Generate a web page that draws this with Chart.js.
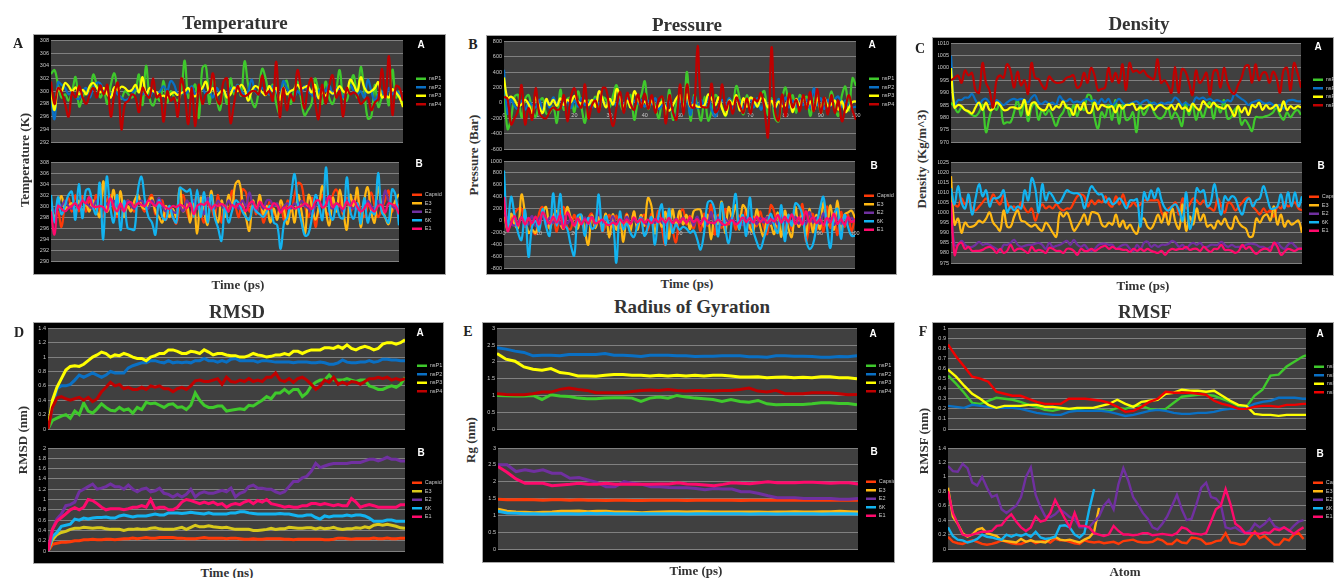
<!DOCTYPE html>
<html>
<head>
<meta charset="utf-8">
<title>MD plots</title>
<script src="https://cdn.jsdelivr.net/npm/chart.js"></script>
<style>
  html, body { margin: 0; padding: 0; background: #fff; width: 1334px; height: 578px; overflow: hidden; }
  .box { position: absolute; background: #000; border: 1px solid #a8a8a8; box-sizing: border-box; }
  canvas { position: absolute; filter: blur(0.5px); }
  .t { position: absolute; font-family: "Liberation Serif", serif; font-weight: bold; color: #333; white-space: nowrap; transform: translate(-50%, -50%); }
  .title { font-size: 19px; }
  .lab { font-size: 13px; }
  .v { transform: translate(-50%, -50%) rotate(-90deg); }
  .ltr { font-size: 14px; color: #222; }
  .sub { position: absolute; font-family: "Liberation Sans", sans-serif; font-weight: bold; font-size: 10px; color: #fff; transform: translate(-50%, -50%); }
</style>
</head>
<body>
<script>
// x axes
const time100 = [0,1,2,3,4,5,6,7,8,9,10,11,12,13,14,15,16,17,18,19,20,21,22,23,24,25,26,27,28,29,30,31,32,33,34,35,36,37,38,39,40,41,42,43,44,45,46,47,48,49,50,51,52,53,54,55,56,57,58,59,60,61,62,63,64,65,66,67,68,69,70,71,72,73,74,75,76,77,78,79,80,81,82,83,84,85,86,87,88,89,90,91,92,93,94,95,96,97,98,99,100];
const rmsdTime = [0,.25,.5,.75,1,1.25,1.5,1.75,2,2.25,2.5,2.75,3,3.25,3.5,3.75,4,4.25,4.5,4.75,5,5.25,5.5,5.75,6,6.25,6.5,6.75,7,7.25,7.5,7.75,8,8.25,8.5,8.75,9,9.25,9.5,9.75,10,10.25,10.5,10.75,11,11.25,11.5,11.75,12,12.25,12.5,12.75,13,13.25,13.5,13.75,14,14.25,14.5,14.75,15,15.25,15.5,15.75,16,16.25,16.5,16.75,17,17.25,17.5,17.75,18,18.25,18.5,18.75,19,19.25,19.5,19.75,20];
const rgTime = [0,500,1000,1500,2000,2500,3000,3500,4000,4500,5000,5500,6000,6500,7000,7500,8000,8500,9000,9500,10000,10500,11000,11500,12000,12500,13000,13500,14000,14500,15000,15500,16000,16500,17000,17500,18000,18500,19000,19500,20000];
const rmsfAtomA = [0,5,10,15,20,25,30,35,40,45,50,55,60,65,70,75,80,85,90,95,100,105,110,115,120,125,130,135,140,145,150,155,160,165,170,175,180,185,190,195,200,205,210,215,220,222];
const rmsfAtomB = [0,20,40,60,80,100,120,140,160,180,200,220,240,260,280,300,320,340,360,380,400,420,440,460,480,500,520,540,560,580,600,620,640,660,680,700,720,740,760,780,800,820,840,860,880,900,920,940,960,980,1000,1020,1040,1060,1080,1100,1120,1140,1160,1180,1200,1220,1240,1260,1280,1300,1320,1340,1360,1380,1400,1420,1440,1460];

// temperature (K)
const tempNsP1 = [302.7,303.3,301,299,299.5,298.5,300,302.2,297.6,299,300,299.5,302.6,301,299,300,298,301,302.8,300,
298.8,300,299.5,299,300,302.6,297.8,304,299,297.7,299,298.5,301.6,298.2,300,299,298.5,300,304.8,299,
300,301,295.8,303.6,304,298,302.2,299,297,300,298,302,299.5,301,299.3,304.7,301,298.5,297.5,300,
303.5,302,299.5,301,298,296.5,301,301.6,298,300,301.5,299,296.2,297,298,302,300,298,301.5,299,
298,300,303.3,299,298.5,301,302.5,299,303.8,300,295.7,296,301,297.5,299,300,297.8,303.4,299,300,298];
const tempNsP2 = [299,295.6,301.4,301,300.5,299.5,299.8,299,298.8,300,300.5,299,300.5,301.3,301.2,300,299.8,299.5,300,299.5,
299,298.6,298.8,299.5,300.3,300,299.5,299.8,299,300,299.5,300,300.8,300,301.6,301,299.5,299.8,299.5,300,
300.8,299.5,300,300.5,299.5,300,299,300.5,299.8,300,299.3,300.5,300,301,300,299.5,300,301.8,300,299.5,
300.5,300,299.5,300.8,300,299,301.6,300.5,299.5,299,300,299.5,300.8,300,299.5,299,300,300.5,300,301,
299.5,300.5,300,299,300.3,301,300,299.5,300,299,301.8,300,298.5,299.5,300,299,300.5,299.5,300,299.5,298.5];
const tempNsP3 = [300,297,300.5,300,301.3,300.8,300,300.6,299.5,300.2,299.5,300.8,301.3,300.6,299.8,300.5,299.5,299,300.6,300.2,
300.7,300.5,300,300.2,301,299.8,302.2,299.5,300.5,300,299.8,299.2,299.3,299,299.5,299.8,299.4,299.7,300,300.5,
299.5,299.2,300,300.5,301.5,299.8,300.5,299.3,299.8,300.2,299,299.5,300.6,300,301,300.3,298.5,300,300.8,300.5,
299.8,299.4,300.8,300,300.5,298.6,300.5,299.5,300,300.3,301,300.4,300.6,300.8,299.8,301,298.9,299.8,299.3,300,
299.6,300,300.8,300,299.8,301.8,301,300,302.2,300.6,299.8,300,300.5,301.4,299,299.3,299,300.3,299.8,299,297.5];
const tempNsP4 = [301.5,298,300.5,299.8,298,296,299.8,299,300.8,299,298,299.5,300.5,299,300.9,299.5,301,296,299.5,301.3,
294,298,298.5,299.5,299,296.7,300.5,299.5,299,302,299,299.5,295.2,300,298.5,299,296,302,299.5,294.8,
300.5,294.5,301,298,299.5,300,302.8,299,298,301.5,302,295,298,300.8,299.5,299.2,299.5,300,300,299.5,
302.5,299.5,300,298.5,304.6,295.9,300.5,297,299.5,298.5,303.3,300.5,297.2,300.5,302,298.5,295.6,301,298,300.8,
302.5,299,300,296,300.5,299.5,299.8,299.3,298,298.5,299,297,298.2,298.8,303.5,299,305.5,296.3,300.8,300.5,298.5];
const tempCapsid = [301,298,299,296.2,300,301.5,299,302,299,301.8,299,301,300,302,299,298,301,302,299.5,298,
300,298.5,301,300,299,302,300,299,301,302,298.5,300,301,297.5,299,298,296.8,300,302,299,
297.5,300,301.8,299,297,301,300,298,302,297,300,299,302.8,300,298,303,302.5,299,300.5,298.5,
301.5,297,299,301,299,298,300,297.5,301,299,302,304.2,303.8,300,298,301.5,296.2,300,302,299,
298.5,302,303,301,298.5,301.5,299,300.5,302,299,298,300,302.5,300,298,299.5,301,302.8,299,300.5,300];
const tempE3 = [300,298,300,301.8,299.5,300,300.5,298.8,301,299,300.5,299,301,299.5,298,304.5,299,300,302.9,298.5,
302.7,298,300,299,301,302,300,299.5,300.5,301.5,299,298,297,300,298,299.5,298,303.3,299,300.5,
297,301,295,301.5,299,296.6,302.7,299,297,301,298,302,300,304,304.5,301,298,295.5,301,299,
302,298.5,300,297,299.5,297.5,301,299,296.7,300,297,302,299,295,302,300,297.5,300,303.6,299,
296.5,301.5,299,303,299,295.7,302,300,303.3,296.2,301,303.4,299,297,303.4,300,298,296.7,299.5,301,302.2];
const tempE2 = [300,299,300.5,300,301,300,299.5,300.5,300,301,300.5,300,299.5,301,300,299.5,300.5,300,301,300,
299.5,300,301,300,299.5,300.5,301,300,299.5,301,300,301.5,300,299,300,299,298.8,300,299,301,
300,301,299.5,300,298.5,301.5,300,299.5,301,300,299.5,301,300,300.5,299.5,301,300,302.5,300,299,
300.5,299.5,301,301,300,300.5,299,300,300.5,299.5,300.5,300,301,300,299.5,298.5,300,300.5,300,301.5,
300,299.5,300.5,300,299,301,300,299.5,300.5,299,300,301,300,299.5,301,299.5,302.8,301,300,299.5,300];
const temp6K = [302,297,301.6,298.5,300,302,302.6,297.5,304,297.8,302.8,303,300,298.5,304.2,293.9,305.3,300,297,302,
295.6,301,296,295.8,295.7,303,305.3,301,298,297,294.8,301,298,297.5,300,298,297,303.3,303,302.6,
303,298,303,298,302.5,297,302,298,296,293.7,300,297,299,301,300.5,299,298,297.5,300,299,
298.5,298,299,300,297,296.5,292.2,297,298,302,305.8,300,297,294.6,295,298,302,300,297.5,307,
299,297.5,300,298,297.8,305.2,299,297.7,300.5,296.8,301.5,297,299,298.5,306,299,298,297,303,302,296.5];
const tempE1 = [299,294.8,300,299.5,299,299.6,300,300.5,299.5,301,300.5,301.6,300,299.8,300,299.8,299,301.4,300,299,
300.5,299,300.5,300.7,299.8,300.5,300.2,300,301,300.5,300,300.7,300.2,299.7,299.5,300,299.8,300.2,300,299.6,
300.5,298.5,300,300.4,300.2,300.8,299.5,300.2,300,300.4,300,299,300.2,299.7,300.4,300,299,300.4,300.8,299.5,
300.8,300,299.5,299.5,300.5,300,298.8,299.7,299.5,300,299.5,299.8,300,300.5,300,299.5,300.8,301,299.7,300.2,
301.8,299.8,300.5,300,299.5,300.8,300,301,299.8,299,299.5,300.5,299.5,299,300,300.2,298.8,300.5,300.3,300,298.5];

// pressure (bar)
const presNsP1 = [250,-340,-200,80,100,-190,50,100,-100,-180,0,60,-140,-130,-50,-260,170,-90,50,60,
-120,150,-60,-260,30,0,80,-100,70,40,-60,100,230,0,-100,30,100,-220,0,100,
280,-80,50,-50,-200,60,-150,170,-220,0,80,-50,400,-230,100,-50,-230,80,-230,-100,
100,50,-60,-170,50,0,220,50,-150,100,-100,50,-50,100,150,-160,60,-200,-240,50,
200,-50,100,-130,100,30,80,-170,50,120,-130,0,-50,150,-50,-170,100,210,-100,320,220];
const presNsP2 = [430,-140,50,-40,-80,30,-90,10,-30,-60,40,-110,20,-60,70,-20,50,-40,20,-70,
30,-50,60,-30,10,-60,50,-20,40,-50,0,20,-40,70,-30,50,-60,30,-10,40,
-50,30,-20,60,-80,-30,-50,40,-130,-180,60,-90,50,-160,80,-70,40,-50,70,-90,
-180,-60,40,-30,60,-100,50,20,-70,30,50,-60,60,-90,30,-50,40,-80,50,-40,
70,-60,30,-50,60,-30,40,-70,190,-30,60,-80,40,-40,50,80,-50,30,-40,-60,-50];
const presNsP3 = [330,60,80,40,-40,-20,40,-20,-130,70,-50,-130,50,-30,40,-40,60,-30,40,10,
90,20,-10,30,-30,40,-50,150,50,-60,50,-20,180,80,-50,30,-60,150,60,-30,
20,-50,30,-70,-40,20,-70,-100,-30,60,100,-70,110,-50,-20,-50,-50,-30,110,50,
-30,70,-80,-160,30,-20,100,-100,60,-50,70,30,-50,60,40,-60,30,-60,20,-40,
-30,50,-120,50,-30,80,-50,20,-100,60,-80,60,-40,-20,30,-90,20,-120,-60,10,20];
const presNsP4 = [80,50,-280,-200,-100,230,-280,-70,-220,190,-130,-190,-200,-110,-60,-90,-70,100,-240,80,
190,0,-60,240,-200,-30,30,-120,190,180,-100,-300,-50,140,-130,130,-20,-90,110,-60,
120,-80,100,-130,50,80,-270,100,-120,-220,240,-150,240,-40,-60,740,-40,-60,-50,250,
-120,-60,240,-90,20,-140,70,-40,-130,60,-140,50,20,130,-100,-440,720,-100,-230,110,
-180,120,-60,40,-110,100,-80,140,-110,180,-130,70,-150,100,-130,30,-240,-60,100,-100,-220];
const presCapsid = [240,-150,0,120,200,200,-100,40,-140,-220,130,230,-50,-120,80,-180,120,230,-100,-140,
100,-80,60,-160,40,120,-100,60,-180,-60,100,-100,90,-120,-60,120,-110,150,-120,40,
100,-160,120,-60,170,-130,-400,190,-130,-360,100,190,-60,80,-140,60,-170,120,-80,270,
-230,100,-120,200,-60,120,-150,90,-70,180,-140,70,-90,160,-100,-220,260,150,-120,120,
-170,100,-150,80,-100,280,-340,-100,120,-150,60,-180,240,-120,120,-240,150,-100,100,-170,80];
const presE3 = [200,-150,120,-60,-120,440,120,-200,-150,-200,-50,130,230,-130,60,170,-50,-130,230,60,
-60,-130,100,-150,-400,90,-120,60,-100,120,-280,110,-150,60,-350,100,-180,160,-150,100,
-80,380,250,-210,60,-100,150,-300,190,-80,170,-60,100,-140,160,190,180,-100,100,-310,
100,-50,320,-200,230,60,260,-150,260,180,-100,-180,190,-100,-260,80,-60,-220,140,-270,
170,-120,-270,230,-100,100,-250,200,-190,100,-140,310,-100,260,-150,340,-160,100,140,170,50];
const presE2 = [100,50,-50,-80,-30,60,-80,-50,80,-90,40,90,-70,60,-40,100,-60,80,-50,30,
-70,40,-40,60,-50,70,-60,180,-30,50,-50,80,-60,40,-30,70,-50,30,-40,60,
-30,-60,50,-40,60,-30,-70,50,-50,40,-40,60,-30,50,-80,70,-40,50,-60,150,
-50,60,-70,40,-30,60,-50,40,-70,60,-40,30,-60,50,-30,70,-50,40,-60,50,
-40,60,-40,70,-50,50,-60,150,-30,60,-50,130,-40,50,-70,40,-50,60,-30,50,-20];
const pres6K = [840,-150,400,100,-200,-320,180,-600,-100,0,-170,200,-100,-250,460,-80,450,-50,-130,-400,
-580,80,100,-250,50,-130,-80,440,-170,80,-60,-30,-700,150,-140,-50,-200,-270,-80,50,
-250,-100,60,-400,80,270,-400,200,-200,-60,-150,-100,-130,-200,-160,-300,-480,-200,300,330,
180,-260,300,-100,-370,50,450,-130,100,-250,390,-150,-350,-470,-300,-100,120,-80,-200,260,
-340,100,-80,290,250,100,-300,-470,-400,-100,200,400,-100,-450,100,200,-300,100,-100,-250,-250];
const presE1 = [400,-170,-50,80,-80,60,-60,50,-40,70,-60,140,40,-50,70,-30,90,-130,140,30,
-80,40,-60,30,-50,60,-40,-20,20,-50,-70,-30,-60,30,-40,20,-50,60,-20,30,
-30,20,-40,30,-20,40,-30,50,-40,20,-30,40,-30,60,-20,30,-50,50,-20,-30,
-40,20,-40,-70,-30,10,-60,-20,60,-20,50,-30,70,-20,40,-40,30,-10,100,-30,
70,-20,110,-50,60,-60,160,-20,60,-40,30,-70,50,-20,120,-50,30,-70,60,-20,10];

// density (kg/m^3)
const densNsP1 = [986,984,982,984,983,982,981,980.5,982,985,974,980,984,983,986,977.5,978,978,982,987,
980.5,987,978.5,984,986,979,983,981,983,980,976.5,980,982,985,980.5,985,980.5,984,983,989,
988.5,980,975.5,982,980,985,979,987,977.5,985,979,979.5,982,974,985,981,983,986,982,980,
979.5,981,984,979.5,982,980,976.5,986,981,985,979,983,980,984,986,979.5,985,982,987,979.5,
980,983,984,977,979,977,974.5,980,980,980,980.5,981,982,984,981,979,982,980,982,983,981];
const densNsP2 = [1005,985,987,987,988,988,989.5,987,985,987,987.5,986,985,987,986,985,986,987,987.5,987,
987.5,987,986,988,989,986,985.5,986.5,985.5,986,985,988.5,987,986.5,987.5,986,986.5,986,987,987.5,
986.5,987,985.5,987.5,986,987.5,985,986,987.5,986,985,985.5,986,986.5,985.5,986.5,987,985.5,986,985,
986,985.5,986,986,988,987,985,986,985,985.5,988,987.5,988,987,987.5,986.5,987,986.5,986,987,
986.5,989.5,988.5,987.5,986.5,985,986,986.5,987,986,985.5,986,985,984,985,983.5,986.5,987,987,986.5,986.5];
const densNsP3 = [1000,984,985,984.5,983,982.5,981.5,984,986,983,986,983,983.5,986,985,983,983,984,984,983.5,
984,987,981,985.5,986,984,983,983,985.5,983,984.5,984,986.5,984,983.5,981,985,983,986,982,
982,986,983,985,984.5,984,984.5,982,985,983.5,985,985,985.5,983,984,983.5,984.5,985,983,984.5,
985,984,983.5,985,983,985.5,983.5,984,982.5,985.5,984,983,986.5,985,984,986,984.5,984,983.5,985,
983,980.5,984.5,982,984,981,985,984,986,983,985,983.5,984,985,982.5,986.5,983,984.5,983.5,984.5,984];
const densNsP4 = [995,996,997,994,999,997,998,991,990,1002,994,991,984,995,997,996,1001.5,999,992,998.5,
993,995,989.5,1002,996,995.5,993,991.5,996.5,995,994,994,994.5,996,996.5,997,992,993,998,994,
1000,997,991,991.5,992,1000,994.5,998,994,1001.5,991,1002,998.5,999,998,999,997,996,995.5,1003.5,
994,995,993,990,1000.5,990,999.5,998.5,994,989,999,994,995.5,998,989,998.5,999,992,1000,994,
990.5,989.5,993,996,1000.5,1001,994,1001.5,995,998,998,994,998.5,996,990,999,1000,991,1002,998,992];
const densCapsid = [1006,1004,1003,1007,1004,1006,1002,1001,1003,1005,1007,1005,1009,1006,1004,1008.5,1005,1002,1003,1001,
1005,1002,1000,1002,996,1001,1004,1002,1003,1002,1004,1002,1001,1002,1002,1005,1008,1009,1008,1003,
1006,1004,1006,1005,1008,1004,1003,1008,1004,1009,1004,1003,1005,1003,1004,1006,1006,1006,1006,1006,
1000,998,1002,1003,1005,999,1007,1002,1004,1007,1006,1004,1006,1003,1002,1001,1007,1003,1000,1005,
1004,1001,1003,1005,1007,1007,1003,1001,999,1002,1000,1001,998,1003,1002,1005,1003,1004,1005,1002,1001];
const densE3 = [1018,994,997,990,995,993,993,994,996,995,997,1000,995,993,991,1001,993,993,998,1001,
996,995.5,994,993,994,992,991,995,993,990,988,1000,998,1000,996,991,993,996,999,994,
1000,1000,999,994,993,995,994,999,993,996,992,994,991,989.5,996,997,993,992,995,999,
995,1000,994,1002,995,992,1004,991,998,994,1002,996,999,993,994,992,996,994,997,993,
992,998,995,993,992,988,988.5,997,995,998,999,996,1003,994,999,993,996,994,995,996,990];
const densE2 = [1000,984,984,986,984,983,983,984,985.5,984,984.5,984,983,982,981,984,984,985,986.5,984,
983,983.5,984,984,984.5,985,984,982,985,983,983.5,984,985,986,984,986.5,984,983,984,982,
981,982,984,984.5,984.5,984,984,982,983,984,984,982,981,984,982,985,985.5,983,984,983,
984,984,984.5,986,985,983,984,982,984,985,984,985,983,983,984,984,984,985.5,984,983,
984,983,983,983,984,984.5,984.5,984,983,983,982,983,984,985,983,982,984,985,983.5,982,982.5];
const dens6K = [1012,1004,1013,1005,1002,1009,999,1007,1014,1008,1011,1003,1007,1007,1008,1011,1000,1003,1001,1003,
1002,1011,1006,1017,1012,1000,1014,1006,1010,1008,1005,1005,1008,1011,1010,1009.5,1009.5,1008,1002,1008,
1013,1011,1009,1009,1005,1007,1004,1005,1007,1005,1002,1006,1006,1006.5,993,1010,1006,1011,1007,1012,
1006,1002,1001,1003,1004,1001,996,1010,992,998,1012,1010,1011,1003,1005,1014,1006,999,1008,1006,
1008,1007,1002,999,1005,1007,1003,1006,1007,1013,1008,1002,1002,1003,1009,1002,1010,1003,1010,1003,1008];
const densE1 = [1005,979,984,985,982,983,981,981,981,981.5,982.5,983,982,980,982,980,981,984,981,982,
982,981,980,983,981,981.5,981,980,982.5,982,981,981,980,982,982,981,979,982,981,981,
982,981,982,983,983.5,982,983,982,982,981.5,981.5,980.5,982,981,982,981,982,981,980.5,980,
981,979,981,982,981.5,982,982,983,981.5,982,982,981,983,981.5,980.5,982,982,984,981.5,981.5,
981,980,981,984,982,983,981,979.5,981,982,982,981,985,983,979,980.5,982,981.5,981,982,982];

// rmsd (nm)
const rmsdNsP1 = [0,.12,.15,.18,.2,.15,.25,.2,.36,.25,.22,.28,.35,.3,.26,.25,.3,.26,.28,.22,
.3,.27,.37,.35,.36,.33,.3,.34,.35,.3,.31,.27,.33,.5,.4,.33,.3,.3,.32,.32,
.25,.26,.27,.28,.27,.33,.32,.36,.4,.45,.42,.5,.5,.55,.5,.55,.55,.45,.5,.6,
.65,.68,.68,.75,.68,.68,.68,.7,.68,.66,.68,.68,.6,.58,.55,.55,.58,.6,.58,.62,.72];
const rmsdNsP2 = [0,.3,.56,.6,.6,.62,.68,.75,.72,.75,.78,.75,.72,.75,.8,.78,.78,.78,.85,.88,
.9,.92,.92,.95,.95,.93,.92,.95,.92,.93,.92,.93,.92,.95,.95,.98,.95,.95,.93,.95,
.93,.97,.98,.95,.95,.95,.95,.93,.95,.95,.94,.93,.93,.93,.93,.92,.93,.93,.93,.92,
.92,.93,.92,.9,.9,.92,.96,.93,.92,.92,.93,.93,.95,.93,.94,.97,.97,.96,.96,.95,.95];
const rmsdNsP3 = [0,.4,.58,.7,.82,.87,.88,.87,.9,.95,1,1.03,1.07,1.05,1,1.03,1.02,1.05,1.03,1,
.98,.98,.95,1,1.02,1.05,1.05,1.1,1.1,1.08,1.05,1.05,1.08,1.07,1.05,1.1,1.07,1.03,1.05,1.05,
1.03,1.02,1.02,1,1,1.02,1.05,1.03,1.02,1,1.01,1.03,1.03,1.05,1.03,1.08,1.08,1.05,1.08,1.1,
1.1,1.1,1.13,1.13,1.12,1.15,1.12,1.17,1.12,1.1,1.13,1.15,1.13,1.1,1.12,1.18,1.2,1.2,1.18,1.2,1.24];
const rmsdNsP4 = [0,.3,.43,.45,.42,.4,.42,.44,.4,.44,.38,.42,.52,.58,.65,.6,.62,.56,.58,.55,
.55,.58,.55,.6,.58,.6,.56,.56,.52,.56,.58,.55,.6,.67,.68,.66,.66,.68,.7,.62,
.72,.66,.65,.68,.66,.7,.66,.68,.66,.72,.72,.78,.68,.66,.7,.65,.7,.72,.68,.62,
.55,.6,.68,.65,.72,.62,.65,.62,.66,.65,.62,.66,.7,.7,.72,.7,.72,.68,.7,.68,.7];
const rmsdCapsid = [0,.13,.15,.17,.17,.18,.2,.2,.22,.22,.23,.22,.22,.23,.23,.22,.23,.24,.24,.25,
.24,.25,.26,.25,.25,.26,.26,.26,.26,.25,.25,.24,.24,.24,.25,.26,.25,.25,.25,.25,
.24,.25,.25,.24,.23,.23,.24,.23,.23,.24,.24,.24,.24,.23,.23,.22,.23,.23,.23,.23,
.23,.23,.22,.22,.23,.25,.25,.24,.23,.24,.24,.24,.24,.25,.24,.24,.25,.24,.24,.25,.25];
const rmsdE3 = [0,.22,.32,.36,.38,.42,.44,.44,.46,.45,.44,.45,.45,.43,.42,.42,.42,.4,.42,.42,
.43,.42,.42,.44,.45,.43,.42,.42,.42,.44,.46,.42,.46,.5,.47,.47,.49,.47,.46,.45,
.46,.44,.42,.42,.42,.42,.4,.4,.41,.42,.44,.42,.43,.43,.46,.45,.44,.44,.45,.45,
.43,.45,.43,.44,.46,.43,.42,.43,.43,.45,.44,.47,.45,.5,.52,.5,.52,.5,.48,.45,.44];
const rmsdE2 = [0,.42,.62,.72,.88,.9,.95,1.15,1.2,1.25,1.3,1.2,1.22,1.25,1.3,1.25,1.25,1.2,1.28,1.2,
1.15,1.2,1.22,1.15,1.17,1.22,1.12,1.1,1.05,1.1,1.05,1.1,1.2,1.05,1.12,1.15,1.12,1.12,1.15,1.18,
1.15,1.22,1.05,1.12,1.15,1.25,1.28,1.22,1.22,1.2,1.2,1.15,1.12,1.15,1.25,1.35,1.35,1.42,1.45,1.55,
1.7,1.62,1.65,1.68,1.7,1.7,1.7,1.7,1.72,1.72,1.72,1.75,1.78,1.78,1.75,1.78,1.82,1.78,1.78,1.75,1.75];
const rmsd6K = [0,.28,.36,.48,.5,.52,.62,.6,.64,.62,.64,.65,.65,.66,.64,.64,.68,.7,.68,.66,
.68,.68,.68,.7,.72,.7,.7,.74,.74,.74,.73,.74,.75,.74,.73,.72,.74,.72,.72,.72,
.72,.74,.74,.76,.76,.74,.73,.72,.72,.72,.72,.72,.73,.72,.72,.7,.68,.68,.7,.7,
.65,.62,.68,.66,.68,.68,.68,.7,.68,.7,.7,.68,.64,.58,.58,.58,.6,.6,.58,.58,.58];
const rmsdE1 = [0,.42,.58,.65,.72,.8,.84,.8,.85,1,.98,.92,.85,.8,.82,.82,.82,.8,.82,.85,
.85,.88,.85,1,.82,.85,.85,.8,.8,.85,.95,1,.98,.95,.92,.95,.92,.95,.9,.92,
.85,.9,.92,.9,.95,.98,.92,.98,.95,1,.92,.9,.88,.85,.87,.85,.85,.88,.88,.92,
.92,.9,.92,.9,.88,.9,.88,.88,1.02,.95,.85,.88,.9,.88,.85,.85,.85,.85,.85,.9,.9];

// radius of gyration (nm)
const rgNsP1 = [1,.99,.98,.98,1,.88,1.02,.98,.97,.92,.9,.9,.92,.93,.93,.92,.82,.92,.95,.92,1,.95,.92,.9,.88,.82,.88,.82,.8,.85,.75,.72,.73,.73,.73,.75,.78,.78,.76,.76,.72];
const rgNsP2 = [2.42,2.38,2.32,2.28,2.18,2.2,2.2,2.18,2.22,2.22,2.22,2.22,2.25,2.2,2.2,2.18,2.16,2.2,2.2,2.2,2.18,2.18,2.16,2.17,2.17,2.18,2.18,2.18,2.15,2.15,2.14,2.18,2.18,2.17,2.17,2.16,2.14,2.14,2.16,2.15,2.18];
const rgNsP3 = [2.25,2.08,2.02,1.85,1.78,1.75,1.8,1.68,1.65,1.58,1.58,1.57,1.6,1.62,1.62,1.6,1.6,1.58,1.6,1.58,1.6,1.58,1.6,1.58,1.6,1.6,1.58,1.55,1.55,1.56,1.53,1.54,1.55,1.53,1.54,1.53,1.56,1.56,1.53,1.53,1.5];
const rgNsP4 = [1.05,1.03,1.02,1.02,1.05,1.1,1.1,1.18,1.22,1.18,1.15,1.08,1.08,1.08,1.08,1.12,1.15,1.16,1.15,1.18,1.15,1.13,1.15,1.15,1.13,1.15,1.15,1.18,1.22,1.13,1.1,1.15,1.05,1.05,1.05,1.08,1.08,1.08,1.05,1.02,1.03];
const rgCapsid = [1.48,1.46,1.46,1.47,1.46,1.45,1.46,1.46,1.45,1.46,1.45,1.45,1.44,1.45,1.45,1.44,1.44,1.45,1.45,1.45,1.45,1.44,1.45,1.45,1.45,1.45,1.45,1.44,1.45,1.45,1.45,1.45,1.45,1.45,1.45,1.45,1.45,1.45,1.45,1.45,1.45];
const rgE3 = [1.18,1.12,1.1,1.09,1.08,1.09,1.1,1.12,1.12,1.13,1.11,1.12,1.12,1.1,1.1,1.09,1.08,1.09,1.1,1.11,1.11,1.1,1.11,1.11,1.1,1.1,1.1,1.1,1.1,1.1,1.09,1.1,1.1,1.11,1.1,1.1,1.11,1.11,1.12,1.11,1.1];
const rgE2 = [2.5,2.5,2.3,2.35,2.3,2.35,2.25,2.25,2.1,2.12,2.05,1.98,1.85,1.85,2,1.95,1.92,1.85,1.85,1.83,1.82,1.82,1.8,1.76,1.8,1.78,1.78,1.7,1.7,1.65,1.58,1.52,1.52,1.52,1.5,1.5,1.5,1.5,1.48,1.48,1.5];
const rg6K = [1.12,1.07,1.06,1.05,1.05,1.04,1.05,1.05,1.05,1.04,1.06,1.05,1.06,1.05,1.05,1.05,1.05,1.05,1.05,1.05,1.05,1.04,1.05,1.05,1.05,1.05,1.05,1.05,1.04,1.05,1.05,1.04,1.05,1.05,1.05,1.05,1.04,1.05,1.05,1.05,1.04];
const rgE1 = [2.45,2.28,2.08,1.95,1.95,1.95,1.88,1.9,1.92,1.95,1.92,1.92,1.95,1.92,1.92,1.92,1.92,1.92,1.93,1.93,1.97,1.93,1.92,1.9,1.88,1.92,1.97,1.95,1.94,1.97,2,1.97,1.97,1.97,1.98,1.98,1.97,1.95,1.97,1.97,1.93];

// rmsf (nm)
const rmsfNsP1 = [.53,.45,.36,.26,.25,.28,.31,.3,.29,.27,.24,.22,.19,.18,.2,.2,.19,.18,.18,.19,.18,.21,.2,.23,.23,.2,.19,.2,.26,.32,.33,.34,.34,.33,.3,.27,.23,.22,.33,.39,.53,.54,.62,.67,.72,.73];
const rmsfNsP2 = [.23,.22,.21,.24,.23,.22,.21,.21,.21,.2,.18,.16,.15,.14,.14,.17,.18,.18,.18,.18,.17,.15,.13,.14,.16,.18,.19,.18,.16,.15,.15,.16,.16,.17,.19,.2,.2,.21,.25,.27,.28,.31,.31,.31,.3,.3];
const rmsfNsP3 = [.59,.52,.43,.35,.3,.24,.21,.23,.23,.23,.24,.24,.22,.22,.21,.2,.21,.21,.21,.23,.25,.29,.25,.22,.27,.28,.29,.35,.36,.39,.38,.38,.37,.38,.33,.28,.24,.23,.15,.14,.14,.13,.14,.14,.14,.14];
const rmsfNsP4 = [.84,.72,.62,.52,.5,.47,.37,.35,.33,.33,.3,.27,.25,.25,.25,.3,.3,.3,.29,.28,.26,.22,.17,.18,.22,.27,.3,.37,.36,.36,.36,.35,.34,.28,.25,.23,.2,.2,.22,.23,.23,.22,.24,.24,.25,.25];
const rmsfCapsid = [.17,.1,.08,.07,.1,.12,.1,.07,.06,.07,.09,.12,.1,.08,.07,.07,.1,.12,.08,.1,
.12,.09,.14,.12,.12,.1,.08,.07,.12,.1,.09,.1,.08,.09,.1,.07,.11,.12,.13,.1,
.09,.09,.1,.14,.12,.07,.07,.13,.09,.08,.16,.15,.13,.07,.08,.11,.12,.22,.09,.08,
.06,.07,.16,.24,.15,.18,.12,.06,.06,.14,.12,.2,.22,.14];
const rmsfE3 = [.85,.45,.35,.22,.17,.2,.27,.29,.22,.2,.18,.12,.11,.1,.09,.14,.1,.12,.1,.1,.09,.14,.17,.13,.12,.13,.11,.09,.13,.16,.24,.57];
const rmsfE2 = [1.15,1.08,1.07,1.18,1.12,.92,.88,1,.85,.72,.75,.55,.5,.55,.6,.72,1,1.13,.75,.58,.45,.44,.48,.55,.5,.44,.42,.3,.3,.3,.38,.45,.6,.68,.55,.9,1.12,.95,.72,.62,.5,.42,.3,.27,.35,.45,.6,.75,.55,.4,.42,.62,.85,.92,.72,.7,.62,.3,.28,.3,.25,.22,.25,.35,.3,.35,.42,.32,.28,.3,.25,.32,.38,.4];
const rmsf6K = [.3,.18,.13,.12,.09,.11,.14,.2,.17,.16,.14,.13,.2,.17,.2,.18,.21,.17,.24,.16,.14,.15,.17,.32,.33,.3,.2,.16,.22,.55,.83];
const rmsfE1 = [.8,.5,.35,.2,.18,.2,.22,.24,.24,.25,.32,.33,.42,.48,.38,.3,.25,.3,.45,.38,.4,.5,.68,.55,.42,.3,.5,.32,.32,.3,.22,.2,.18,.2,.32,.25,.2,.2,.19,.2,.22,.22,.19,.2,.21,.2,.19,.22,.3,.28,.22,.21,.2,.22,.38,.55,.6,.83,.62,.35,.3,.22,.22,.22,.21,.23,.22,.28,.26,.3,.26,.21,.26,.3];

// y axis ranges [min, max, step]
const tempRangeA = [292, 308, 2], tempRangeB = [290, 308, 2];
const presRangeA = [-600, 800, 200], presRangeB = [-800, 1000, 200];
const densRangeA = [970, 1010, 5], densRangeB = [975, 1025, 5];
const rmsdRangeA = [0, 1.4, .2], rmsdRangeB = [0, 2, .2];
const rgRange = [0, 3, .5];
const rmsfRangeA = [0, 1, .1], rmsfRangeB = [0, 1.4, .2];

const nsNames = ['nsP1', 'nsP2', 'nsP3', 'nsP4'];
const sNames = ['Capsid', 'E3', 'E2', '6K', 'E1'];
const nsColors = ['#3fc92c', '#0a70c4', '#ffff00', '#c00000'];
const sColors = ['#ff3a08', '#ffb812', '#7030a0', '#13b3f0', '#ff0a6c'];

// plot background + legend moved to where the figure has it
const framePlugin = {
  id: 'frame',
  beforeDraw(chart) {
    const a = chart.chartArea, ctx = chart.ctx;
    ctx.save();
    ctx.fillStyle = '#404040';
    ctx.fillRect(a.left, a.top, a.right - a.left, a.bottom - a.top);
    ctx.restore();
  },
  afterLayout(chart) {
    const l = chart.legend, pos = chart.options.plugins.frame;
    const w = l.width, h = l.height;
    l.left = pos.x; l.top = pos.y; l.right = pos.x + w + 40; l.bottom = pos.y + h + 10;
  }
};

function addFigure(box) {
  const d = document.createElement('div');
  d.className = 'box';
  d.style.cssText = `left:${box[0]}px;top:${box[1]}px;width:${box[2]}px;height:${box[3]}px`;
  document.body.appendChild(d);
}

function addText(cls, text, x, y) {
  const d = document.createElement('div');
  d.className = cls;
  d.textContent = text;
  d.style.left = x + 'px';
  d.style.top = y + 'px';
  document.body.appendChild(d);
}

// thin legend keys: the dataset border would make them too fat
function legendItems(chart) {
  return Chart.defaults.plugins.legend.labels.generateLabels(chart).map(item => {
    item.lineWidth = 0;
    return item;
  });
}

// canvasBox: [left, top, width, height], plot: [left, top, right, bottom] in page px
function addChart(o) {
  const [cx, cy, cw, ch] = o.canvasBox;
  const [pl, pt, pr, pb] = o.plot;
  const c = document.createElement('canvas');
  c.width = cw; c.height = ch;
  c.style.left = cx + 'px'; c.style.top = cy + 'px';
  document.body.appendChild(c);

  const axisW = 13, axisH = o.zeroAxis ? 0 : 9;
  const tick = v => String(+v.toFixed(2));
  new Chart(c, {
    type: 'line',
    data: {
      labels: o.xs,
      datasets: o.series.map((s, i) => ({
        label: o.names[i],
        data: s,
        borderColor: o.colors[i],
        backgroundColor: o.colors[i],
        borderWidth: o.lw || 2.2,
        pointRadius: 0,
        tension: o.tension || 0,
        order: o.series.length - i
      }))
    },
    options: {
      responsive: false,
      animation: false,
      events: [],
      layout: { padding: { left: pl - cx - axisW, top: pt - cy, right: cx + cw - pr, bottom: cy + ch - pb - axisH } },
      scales: {
        x: {
          type: 'linear',
          min: o.xRange[0], max: o.xRange[1],
          position: o.zeroAxis ? { y: 0 } : 'bottom',
          afterFit: s => { s.height = axisH; },
          grid: { display: false },
          border: { display: false },
          ticks: { stepSize: o.xRange[2], autoSkip: false, maxRotation: 0, padding: 1, color: '#c8c8c8', font: { size: 5.5, family: 'Liberation Sans' }, callback: tick }
        },
        y: {
          min: o.yRange[0], max: o.yRange[1],
          afterFit: s => { s.width = axisW; },
          grid: { color: '#808080', lineWidth: 1, drawTicks: false },
          border: { display: false },
          ticks: { stepSize: o.yRange[2], autoSkip: false, padding: 2, color: '#c8c8c8', font: { size: 5.5, family: 'Liberation Sans' }, callback: tick }
        }
      },
      plugins: {
        tooltip: { enabled: false },
        frame: { x: o.legend[0] - cx - 3, y: o.legend[1] - cy - 6 },
        legend: {
          position: 'chartArea',
          align: 'start',
          labels: {
            boxWidth: 10, boxHeight: 2.5, padding: 3,
            color: '#c8c8c8',
            font: { size: 5.5, family: 'Liberation Sans' },
            generateLabels: legendItems,
            sort: (a, b) => a.datasetIndex - b.datasetIndex
          }
        }
      }
    },
    plugins: [framePlugin]
  });
}

// figures
[[33,34,413,241],[486,35,411,240],[932,37,402,239],[33,322,411,242],[482,322,413,241],[932,322,402,241]].forEach(addFigure);

addChart({ canvasBox:[34,35,411,117], plot:[51,40,403,142], xs:time100, xRange:[0,100,10], yRange:tempRangeA, series:[tempNsP1,tempNsP2,tempNsP3,tempNsP4], names:nsNames, colors:nsColors, tension:.4, legend:[416,79] });
addChart({ canvasBox:[34,152,411,122], plot:[51,162,399,261], xs:time100, xRange:[0,100,10], yRange:tempRangeB, series:[tempCapsid,tempE3,tempE2,temp6K,tempE1], names:sNames, colors:sColors, tension:.4, legend:[412,195] });
addChart({ canvasBox:[487,36,409,119], plot:[504,40,856,149], xs:time100, xRange:[0,100,10], yRange:presRangeA, series:[presNsP1,presNsP2,presNsP3,presNsP4], names:nsNames, colors:nsColors, tension:.4, zeroAxis:true, legend:[869,79] });
addChart({ canvasBox:[487,155,409,119], plot:[504,161,855,270], xs:time100, xRange:[0,100,10], yRange:presRangeB, series:[presCapsid,presE3,presE2,pres6K,presE1], names:sNames, colors:sColors, tension:.4, zeroAxis:true, legend:[864,196] });
addChart({ canvasBox:[933,38,401,114], plot:[951,41,1301,142], xs:time100, xRange:[0,100,10], yRange:densRangeA, series:[densNsP1,densNsP2,densNsP3,densNsP4], names:nsNames, colors:nsColors, tension:.4, legend:[1313,80] });
addChart({ canvasBox:[933,152,401,123], plot:[951,162,1302,263], xs:time100, xRange:[0,100,10], yRange:densRangeB, series:[densCapsid,densE3,densE2,dens6K,densE1], names:sNames, colors:sColors, tension:.4, legend:[1309,197] });
addChart({ canvasBox:[34,323,409,115], plot:[48,327,405,429], xs:rmsdTime, xRange:[0,20,2], yRange:rmsdRangeA, series:[rmsdNsP1,rmsdNsP2,rmsdNsP3,rmsdNsP4], names:nsNames, colors:nsColors, lw:3, legend:[417,366] });
addChart({ canvasBox:[34,438,409,125], plot:[48,448,405,551], xs:rmsdTime, xRange:[0,20,2], yRange:rmsdRangeB, series:[rmsdCapsid,rmsdE3,rmsdE2,rmsd6K,rmsdE1], names:sNames, colors:['#ff3a08','#d8c81a','#7030a0','#13b3f0','#ff0a6c'], lw:3, legend:[412,483] });
addChart({ canvasBox:[483,323,411,115], plot:[497,327,857,429], xs:rgTime, xRange:[0,20000,2000], yRange:rgRange, series:[rgNsP1,rgNsP2,rgNsP3,rgNsP4], names:nsNames, colors:nsColors, lw:3, legend:[866,366] });
addChart({ canvasBox:[483,438,411,124], plot:[498,448,858,549], xs:rgTime, xRange:[0,20000,2000], yRange:rgRange, series:[rgCapsid,rgE3,rgE2,rg6K,rgE1], names:sNames, colors:sColors, lw:3, legend:[866,482] });
addChart({ canvasBox:[933,323,401,115], plot:[948,328,1306,429], xs:rmsfAtomA, xRange:[0,222,50], yRange:rmsfRangeA, series:[rmsfNsP1,rmsfNsP2,rmsfNsP3,rmsfNsP4], names:nsNames, colors:['#3fc92c','#0a70c4','#ffff00','#f00000'], lw:2.4, legend:[1314,367] });
addChart({ canvasBox:[933,438,401,124], plot:[948,448,1306,549], xs:rmsfAtomB, xRange:[0,1470,200], yRange:rmsfRangeB, series:[rmsfCapsid,rmsfE3,rmsfE2,rmsf6K,rmsfE1], names:sNames, colors:sColors, lw:2.4, legend:[1313,483] });

// headings and axis names
[['Temperature',235,23],['Pressure',687,25],['Density',1139,24],['RMSD',237,312],['Radius of Gyration',692,307],['RMSF',1145,312]]
  .forEach(t => addText('t title', t[0], t[1], t[2]));
[['Time (ps)',238,285],['Time (ps)',687,284],['Time (ps)',1143,286],['Time (ns)',227,573],['Time (ps)',696,571],['Atom',1125,572]]
  .forEach(t => addText('t lab', t[0], t[1], t[2]));
[['Temperature (K)',25,160],['Pressure (Bar)',474,155],['Density (Kg/m^3)',922,159],['RMSD (nm)',23,440],['Rg (nm)',471,440],['RMSF (nm)',924,441]]
  .forEach(t => addText('t lab v', t[0], t[1], t[2]));
[['A',18,44],['B',473,45],['C',920,49],['D',19,333],['E',468,332],['F',923,332]]
  .forEach(t => addText('t ltr', t[0], t[1], t[2]));
[['A',421,44],['B',419,163],['A',872,44],['B',874,165],['A',1318,46],['B',1321,165],['A',420,332],['B',421,452],['A',873,333],['B',874,451],['A',1320,333],['B',1320,453]]
  .forEach(t => addText('sub', t[0], t[1], t[2]));
</script>
</body>
</html>
